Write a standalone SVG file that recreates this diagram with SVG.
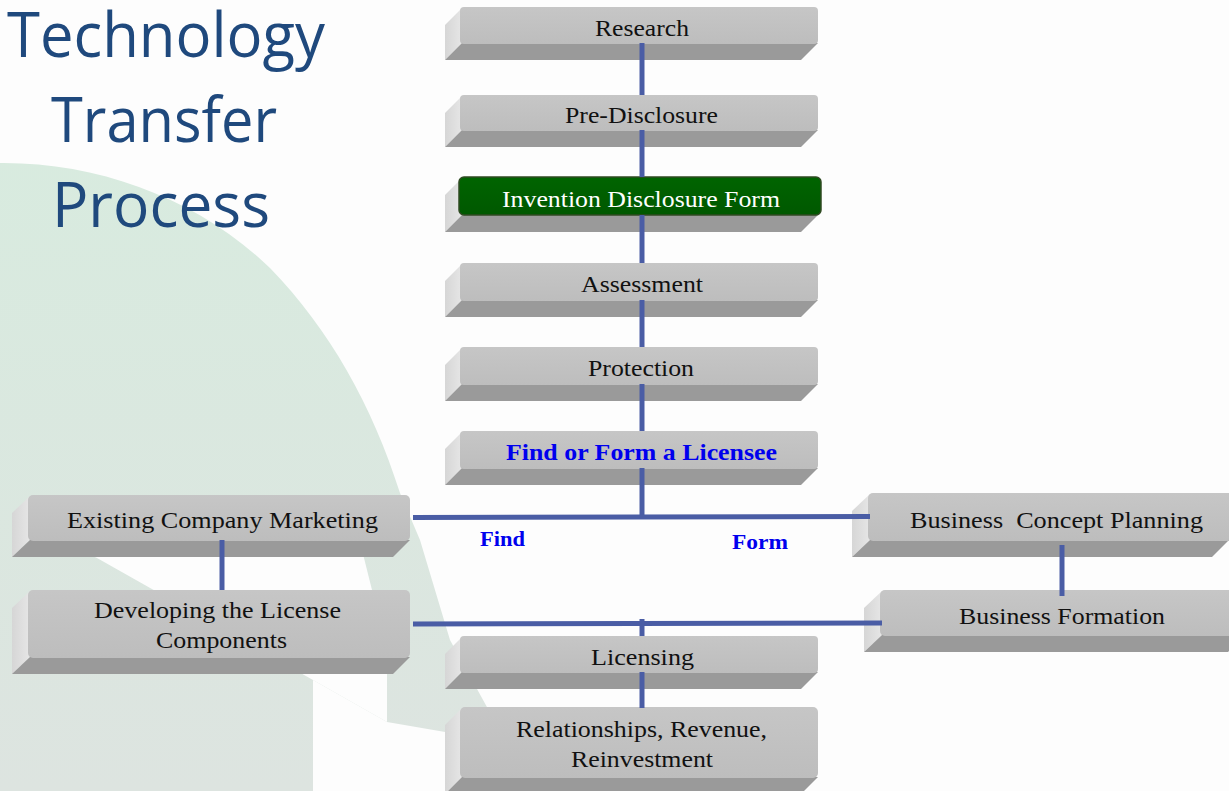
<svg xmlns="http://www.w3.org/2000/svg" width="1229" height="791" viewBox="0 0 1229 791">
<defs>
<linearGradient id="bgG" x1="0" y1="150" x2="0" y2="791" gradientUnits="userSpaceOnUse">
<stop offset="0" stop-color="#d8ebdf"/><stop offset="1" stop-color="#dde4e0"/>
</linearGradient>
<linearGradient id="faceG" x1="0" y1="0" x2="0" y2="1">
<stop offset="0" stop-color="#c6c6c6"/><stop offset="1" stop-color="#bdbdbd"/>
</linearGradient>
<linearGradient id="leftG" x1="0" y1="0" x2="1" y2="0">
<stop offset="0" stop-color="#d6d6d6"/><stop offset="1" stop-color="#e6e6e6"/>
</linearGradient>
<linearGradient id="greenG" x1="0" y1="0" x2="0" y2="1">
<stop offset="0" stop-color="#006400"/><stop offset="1" stop-color="#005800"/>
</linearGradient>
</defs>
<style>
.face{fill:url(#faceG)}
.left{fill:url(#leftG)}
.bot{fill:#9a9a9a}
.t{font-family:"Liberation Serif","Times New Roman",serif;font-size:24px;fill:#111;text-anchor:middle}
.tb{font-family:"Liberation Serif","Times New Roman",serif;font-size:24px;font-weight:bold;fill:#0000ee;text-anchor:middle}
.lab{font-family:"Liberation Serif","Times New Roman",serif;font-size:20px;font-weight:bold;fill:#0000ee;text-anchor:middle}
.title{font-family:"Open Sans","Noto Sans",sans-serif;font-size:63px;fill:#1f497d;text-anchor:middle}
.con{stroke:#4a5da5;stroke-width:5;fill:none}
</style>
<rect width="1229" height="791" fill="#fdfdfd"/>
<g id="background">
<path d="M0,163 C100,162 200,200 270,268 C330,330 372,405 400,493 L420,540 L450,640 L493,718 L480,738 L387,722 L313,680 L313,791 L0,791 Z" fill="url(#bgG)"/>
<path d="M97,558 L60,540 L350,505 L362,550 L387,650 L387,722 L313,680 Z" fill="#fdfdfd"/>
</g>
<g id="title">
<text class="title" x="166" y="57" textLength="318" lengthAdjust="spacingAndGlyphs">Technology</text>
<text class="title" x="164" y="142" textLength="226" lengthAdjust="spacingAndGlyphs">Transfer</text>
<text class="title" x="161" y="227" textLength="218" lengthAdjust="spacingAndGlyphs">Process</text>
</g>

<g id="research">
<polygon class="left" points="462,8 462,43 445,60 445,25"/>
<polygon class="bot" points="462,43 818,43 801,60 445,60"/>
<rect class="face" x="460" y="7" width="358" height="37" rx="4"/>
<text class="t" x="642" y="36" textLength="94" lengthAdjust="spacingAndGlyphs">Research</text>
</g>
<g id="predisclosure">
<polygon class="left" points="462,96 462,130 445,147 445,113"/>
<polygon class="bot" points="462,130 818,130 801,147 445,147"/>
<rect class="face" x="460" y="95" width="358" height="36" rx="4"/>
<text class="t" x="641.5" y="123" textLength="153" lengthAdjust="spacingAndGlyphs">Pre-Disclosure</text>
</g>
<g id="idf">
<polygon class="left" points="462,178 462,215 445,232 445,195"/>
<polygon class="bot" points="462,215 818,215 801,232 445,232"/>
<rect x="459" y="177" width="362" height="38" rx="5" fill="url(#greenG)" stroke="#2f4a22" stroke-width="1.5"/>
<text class="t" x="641" y="207" style="fill:#ffffff" textLength="278" lengthAdjust="spacingAndGlyphs">Invention Disclosure Form</text>
</g>
<g id="assessment">
<polygon class="left" points="462,264 462,300 445,317 445,281"/>
<polygon class="bot" points="462,300 818,300 801,317 445,317"/>
<rect class="face" x="460" y="263" width="358" height="38" rx="4"/>
<text class="t" x="642" y="292" textLength="122" lengthAdjust="spacingAndGlyphs">Assessment</text>
</g>
<g id="protection">
<polygon class="left" points="462,348 462,384 445,401 445,365"/>
<polygon class="bot" points="462,384 818,384 801,401 445,401"/>
<rect class="face" x="460" y="347" width="358" height="38" rx="4"/>
<text class="t" x="641" y="376" textLength="106" lengthAdjust="spacingAndGlyphs">Protection</text>
</g>
<g id="findorform">
<polygon class="left" points="462,432 462,468 445,485 445,449"/>
<polygon class="bot" points="462,468 818,468 801,485 445,485"/>
<rect class="face" x="460" y="431" width="358" height="38" rx="4"/>
<text class="tb" x="641.5" y="460" textLength="271" lengthAdjust="spacingAndGlyphs">Find or Form a Licensee</text>
</g>
<g id="existing">
<polygon class="left" points="30,496 30,540 12,557 12,513"/>
<polygon class="bot" points="30,540 410,540 393,557 12,557"/>
<rect class="face" x="28" y="495" width="382" height="46" rx="5"/>
<text class="t" x="222.5" y="528" textLength="311" lengthAdjust="spacingAndGlyphs">Existing Company Marketing</text>
</g>
<g id="developing">
<polygon class="left" points="30,591 30,657 12,674 12,608"/>
<polygon class="bot" points="30,657 410,657 393,674 12,674"/>
<rect class="face" x="28" y="590" width="382" height="68" rx="5"/>
<text class="t" x="217.5" y="618" textLength="247" lengthAdjust="spacingAndGlyphs">Developing the License</text>
<text class="t" x="221.5" y="648" textLength="131" lengthAdjust="spacingAndGlyphs">Components</text>
</g>
<g id="concept">
<polygon class="left" points="870,494 870,540 852,557 852,511"/>
<polygon class="bot" points="870,540 1229,540 1212,557 852,557"/>
<rect class="face" x="868" y="493" width="365" height="48" rx="5"/>
<text class="t" x="1056.5" y="528" style="white-space:pre" textLength="293" lengthAdjust="spacingAndGlyphs">Business  Concept Planning</text>
</g>
<g id="formation">
<polygon class="left" points="882,591 882,635 864,652 864,608"/>
<polygon class="bot" points="882,635 1245,635 1228,652 864,652"/>
<rect class="face" x="880" y="590" width="365" height="46" rx="5"/>
<text class="t" x="1062" y="624" textLength="206" lengthAdjust="spacingAndGlyphs">Business Formation</text>
</g>
<g id="licensing">
<polygon class="left" points="462,637 462,672 445,689 445,654"/>
<polygon class="bot" points="462,672 818,672 801,689 445,689"/>
<rect class="face" x="460" y="636" width="358" height="37" rx="4"/>
<text class="t" x="642.5" y="665" textLength="103" lengthAdjust="spacingAndGlyphs">Licensing</text>
</g>
<g id="relationships">
<polygon class="left" points="462,708 462,777 445,794 445,725"/>
<polygon class="bot" points="462,777 818,777 801,794 445,794"/>
<rect class="face" x="460" y="707" width="358" height="71" rx="5"/>
<text class="t" x="641.5" y="737" textLength="251" lengthAdjust="spacingAndGlyphs">Relationships, Revenue,</text>
<text class="t" x="642" y="767" textLength="142" lengthAdjust="spacingAndGlyphs">Reinvestment</text>
</g>

<g id="connectors">
<line class="con" x1="642" y1="43" x2="642" y2="95"/>
<line class="con" x1="642" y1="130" x2="642" y2="177"/>
<line class="con" x1="642" y1="215" x2="642" y2="263"/>
<line class="con" x1="642" y1="300" x2="642" y2="347"/>
<line class="con" x1="642" y1="384" x2="642" y2="431"/>
<line class="con" x1="642" y1="468" x2="642" y2="519"/>
<line class="con" x1="413" y1="517.5" x2="870" y2="516.5"/>
<line class="con" x1="222" y1="540" x2="222" y2="590"/>
<line class="con" x1="1062" y1="545" x2="1062" y2="596"/>
<line class="con" x1="413" y1="624" x2="882" y2="623"/>
<line class="con" x1="642" y1="619" x2="642" y2="636"/>
<line class="con" x1="642" y1="672" x2="642" y2="708"/>
</g>
<g id="labels">
<text class="lab" x="502.5" y="546" textLength="45" lengthAdjust="spacingAndGlyphs">Find</text>
<text class="lab" x="760" y="549" textLength="56" lengthAdjust="spacingAndGlyphs">Form</text>
</g>
</svg>
